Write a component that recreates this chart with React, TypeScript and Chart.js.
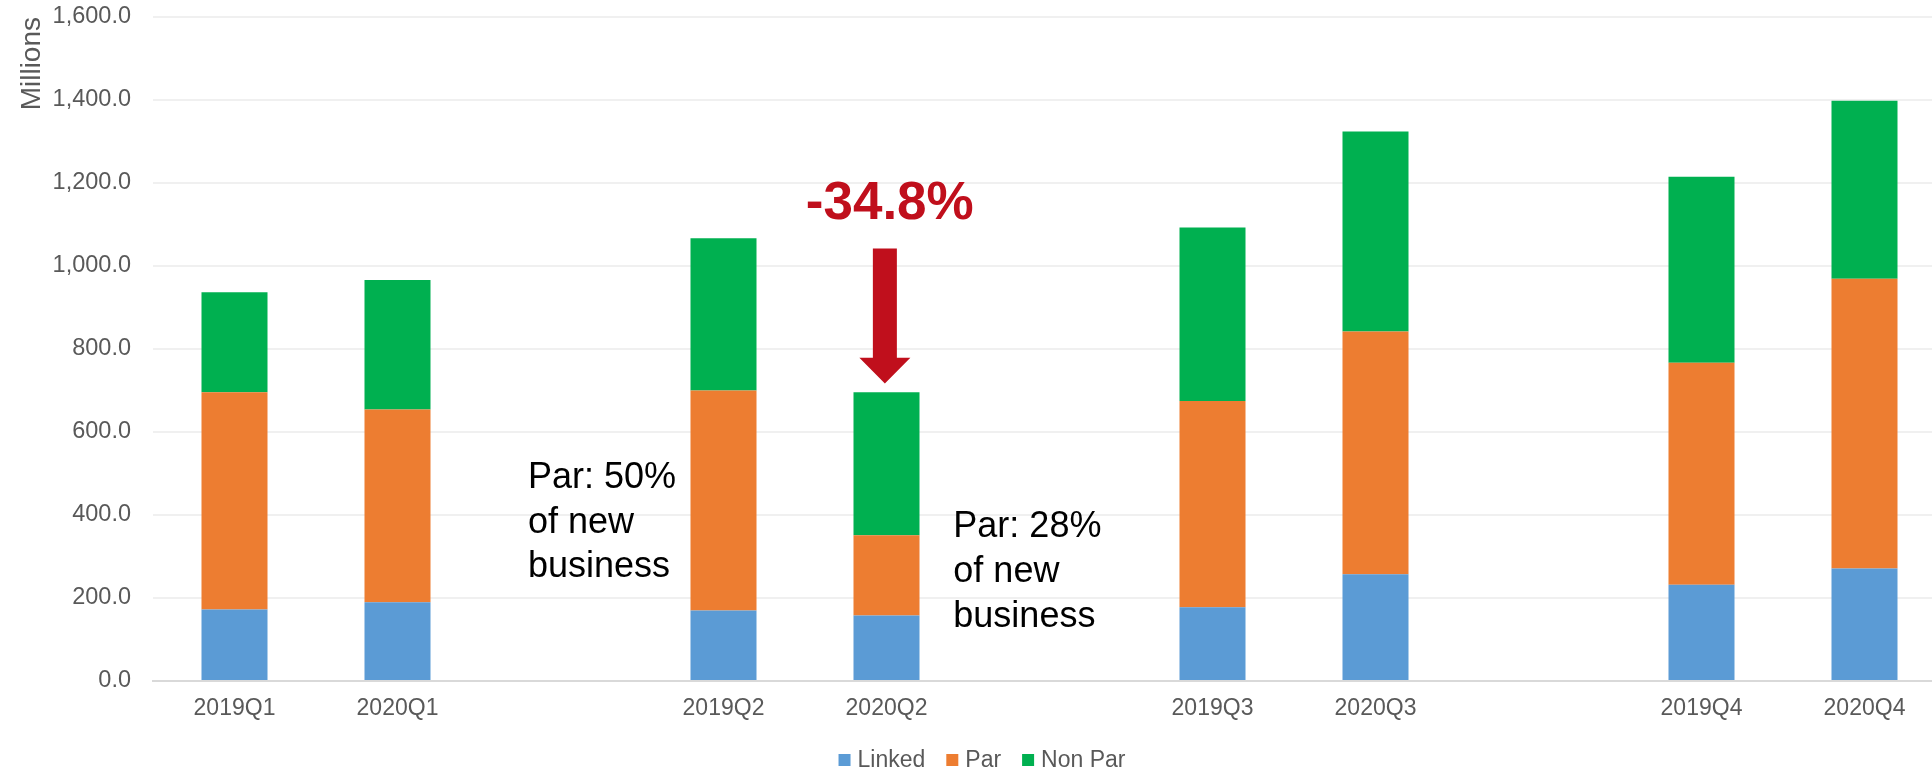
import React, { useEffect, useRef } from 'react';
import { Chart, registerables } from 'chart.js';

Chart.register(...registerables);

const categories = ['2019Q1', '2020Q1', '', '2019Q2', '2020Q2', '', '2019Q3', '2020Q3', '', '2019Q4', '2020Q4'];
const linked = [172, 190, null, 170, 158, null, 178, 257, null, 232, 271];
const par = [524, 464, null, 530, 193, null, 497, 585, null, 535, 698];
const nonPar = [241, 312, null, 367, 345, null, 418, 482, null, 448, 429];
const seriesNames = ['Linked', 'Par', 'Non Par'];
const seriesColors = ['#5B9BD5', '#ED7D31', '#00B050'];
const yTicksMax = 1600;
const yTicksStep = 200;
const axisTitle = 'Millions';

const dropLabel = '-34.8%';
const noteLeft = ['Par: 50%', 'of new', 'business'];
const noteRight = ['Par: 28%', 'of new', 'business'];

const FONT = '"Liberation Sans", Arial, sans-serif';
const GREY = '#595959';

const overlayPlugin = {
  id: 'overlay',
  afterDraw(chart: any) {
    const ctx = chart.ctx;
    const xs = chart.scales.x;
    const ys = chart.scales.y;
    ctx.save();
    // annotation text -34.8%
    ctx.fillStyle = '#C00F1C';
    ctx.font = `bold 53px ${FONT}`;
    ctx.textAlign = 'center';
    ctx.textBaseline = 'alphabetic';
    ctx.fillText(dropLabel, xs.getPixelForValue(4.02), ys.getPixelForValue(1114));
    // arrow
    const ax = xs.getPixelForValue(3.99);
    const top = ys.getPixelForValue(1042);
    const headStart = ys.getPixelForValue(779);
    const tip = ys.getPixelForValue(717);
    ctx.beginPath();
    ctx.moveTo(ax - 12, top);
    ctx.lineTo(ax + 12, top);
    ctx.lineTo(ax + 12, headStart);
    ctx.lineTo(ax + 25.5, headStart);
    ctx.lineTo(ax, tip);
    ctx.lineTo(ax - 25.5, headStart);
    ctx.lineTo(ax - 12, headStart);
    ctx.closePath();
    ctx.fill();
    // notes
    ctx.fillStyle = '#000000';
    ctx.font = `36px ${FONT}`;
    ctx.textAlign = 'left';
    const lx = xs.getPixelForValue(1.8);
    const ly = ys.getPixelForValue(465);
    noteLeft.forEach((t, i) => ctx.fillText(t, lx, ly + i * 44.5));
    const rx = xs.getPixelForValue(4.41);
    const ry = ys.getPixelForValue(347);
    noteRight.forEach((t, i) => ctx.fillText(t, rx, ry + i * 45));
    // legend
    ctx.font = `23px ${FONT}`;
    ctx.textBaseline = 'middle';
    const box = 12;
    const gapText = 7;
    const gapItem = 21;
    const widths = seriesNames.map((n) => ctx.measureText(n).width);
    const total = widths.reduce((a, w) => a + box + gapText + w, 0) + gapItem * (seriesNames.length - 1);
    let x = chart.width / 2 - total / 2 + 2;
    const cy = chart.height - 15;
    seriesNames.forEach((n, i) => {
      ctx.fillStyle = seriesColors[i];
      ctx.fillRect(x, cy - box / 2, box, box);
      x += box + gapText;
      ctx.fillStyle = GREY;
      ctx.fillText(n, x, cy + 1);
      x += widths[i] + gapItem;
    });
    ctx.restore();
  },
};

export default function App() {
  const ref = useRef<HTMLCanvasElement | null>(null);
  useEffect(() => {
    if (!ref.current) return;
    Chart.defaults.font.family = FONT;
    const chart = new Chart(ref.current, {
      type: 'bar',
      data: {
        labels: categories,
        datasets: [linked, par, nonPar].map((d, i) => ({
          label: seriesNames[i],
          data: d,
          backgroundColor: seriesColors[i],
          borderWidth: 0,
          barPercentage: 0.405,
          categoryPercentage: 1,
        })),
      },
      options: {
        animation: false,
        responsive: true,
        maintainAspectRatio: false,
        layout: { padding: { left: 0, right: 14, top: 17, bottom: 54 } },
        plugins: { legend: { display: false }, tooltip: { enabled: false } },
        scales: {
          x: {
            stacked: true,
            grid: { display: false, drawTicks: false },
            border: { display: true, color: '#D9D9D9', width: 2 },
            ticks: { color: GREY, font: { size: 23, family: FONT }, padding: 14, autoSkip: false, maxRotation: 0 },
            afterFit: (s: any) => { s.height = 40; s.paddingLeft = 0; s.paddingRight = 0; },
          },
          y: {
            stacked: true,
            min: 0,
            max: yTicksMax,
            grid: { color: '#F0F0F0', lineWidth: 2, drawTicks: false },
            border: { display: false },
            ticks: {
              stepSize: yTicksStep,
              color: GREY,
              padding: 22,
              font: { size: 23.5, family: FONT },
              callback: (v: any) => Number(v).toLocaleString('en-US', { minimumFractionDigits: 1, maximumFractionDigits: 1 }),
            },
            title: { display: true, text: axisTitle, align: 'end', color: GREY, font: { size: 28, family: FONT }, padding: { top: 15, bottom: 0 } },
            afterFit: (s: any) => { s.width = 153; s.paddingTop = 0; s.paddingBottom = 0; },
          },
        },
      },
      plugins: [overlayPlugin],
    });
    return () => chart.destroy();
  }, []);
  return (
    <div style={{ position: 'fixed', left: 0, top: 0, width: 1932, height: 775, overflow: 'hidden', background: '#fff' }}>
      <div style={{ position: 'relative', width: 1960, height: 775 }}>
        <canvas ref={ref} />
      </div>
    </div>
  );
}
